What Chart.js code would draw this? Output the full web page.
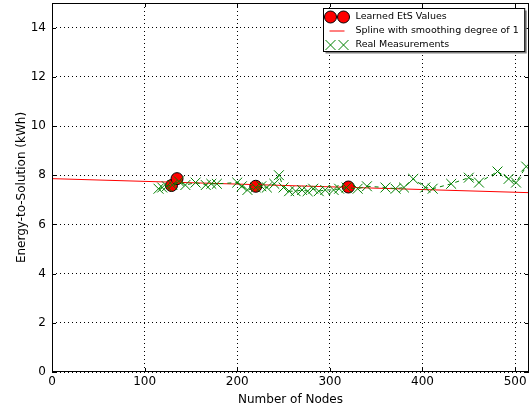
<!DOCTYPE html>
<html>
<head>
<meta charset="utf-8">
<script src="https://cdn.jsdelivr.net/npm/chart.js@4"></script>
<style>
  html, body { margin: 0; padding: 0; background: #fff; }
  canvas { display: block; }
</style>
</head>
<body>
<canvas id="chart" width="530" height="407"></canvas>
<script>
// values
const learnedNodes = [129, 135, 220, 320];
const learnedEts   = [7.58, 7.86, 7.55, 7.52];

const splineNodes = [0, 515];
const splineEts   = [7.86, 7.29];

const measuredNodes = [115, 119, 124, 130, 137, 144, 155, 166, 172, 178, 200, 205, 211, 220, 226, 232,
                       240, 245, 250, 256, 263, 270, 276, 282, 288, 295, 304, 310, 318, 330, 340, 360,
                       371, 380, 390, 403, 411, 431, 450, 461, 481, 493, 501, 512];
const measuredEts   = [7.45, 7.50, 7.55, 7.60, 7.75, 7.60, 7.70, 7.60, 7.65, 7.65, 7.70, 7.55, 7.40, 7.50, 7.55, 7.50,
                       7.65, 8.00, 7.50, 7.35, 7.35, 7.40, 7.35, 7.45, 7.35, 7.40, 7.40, 7.45, 7.50, 7.45, 7.55, 7.50,
                       7.45, 7.50, 7.85, 7.50, 7.45, 7.65, 7.90, 7.70, 8.15, 7.85, 7.70, 8.35];

const xTicks = [0, 100, 200, 300, 400, 500];
const yTicks = [0, 2, 4, 6, 8, 10, 12, 14];

const FONT = 'DejaVu Sans';
const toXY = (xs, ys) => xs.map((x, i) => ({ x: x, y: ys[i] }));

const framePlugin = {
  id: 'frame',
  afterDraw(chart) {
    const ctx = chart.ctx;
    const a = chart.chartArea;
    ctx.save();
    ctx.strokeStyle = '#000';
    ctx.lineWidth = 1;
    ctx.strokeRect(Math.round(a.left) + 0.5, Math.round(a.top) + 0.5,
                   Math.round(a.right - a.left) - 1, Math.round(a.bottom - a.top) - 1);
    // inward tick marks on all sides
    ctx.beginPath();
    chart.scales.x.ticks.forEach(t => {
      const px = Math.round(chart.scales.x.getPixelForValue(t.value)) + 0.5;
      ctx.moveTo(px, a.bottom); ctx.lineTo(px, a.bottom - 4);
      ctx.moveTo(px, a.top); ctx.lineTo(px, a.top + 4);
    });
    chart.scales.y.ticks.forEach(t => {
      const py = Math.round(chart.scales.y.getPixelForValue(t.value)) + 0.5;
      ctx.moveTo(a.left, py); ctx.lineTo(a.left + 4, py);
      ctx.moveTo(a.right, py); ctx.lineTo(a.right - 4, py);
    });
    ctx.stroke();
    ctx.restore();
  }
};

const legendPlugin = {
  id: 'mplLegend',
  afterDraw(chart) {
    const ctx = chart.ctx;
    const a = chart.chartArea;
    const sets = chart.data.datasets;
    ctx.save();
    ctx.font = '9.5px "' + FONT + '"';
    const textW = Math.max(...sets.map(d => ctx.measureText(d.label).width));
    const w = textW + 38, h = 43;
    const left = Math.round(a.right - w - 5) + 0.5;
    const top = Math.round(a.top + 5) + 0.5;
    // shadow
    ctx.fillStyle = '#808080';
    ctx.fillRect(left + 2, top + 2, w, h);
    ctx.fillStyle = '#fff';
    ctx.fillRect(left, top, w, h);
    ctx.strokeStyle = '#000';
    ctx.lineWidth = 1;
    ctx.strokeRect(left, top, w, h);

    sets.forEach((d, i) => {
      const cy = Math.round(top + 8 + i * 14);
      const m1 = left + 7, m2 = left + 20;
      if (d.showLine && d.pointRadius === 0) {
        ctx.strokeStyle = '#ff0000';
        ctx.lineWidth = 1;
        ctx.beginPath(); ctx.moveTo(m1 - 1, cy); ctx.lineTo(m2 + 1, cy); ctx.stroke();
      } else if (d.pointStyle === 'circle') {
        [m1, m2].forEach(mx => {
          ctx.beginPath(); ctx.arc(mx, cy, 6, 0, Math.PI * 2);
          ctx.fillStyle = d.pointBackgroundColor; ctx.fill();
          ctx.strokeStyle = d.pointBorderColor; ctx.lineWidth = 1; ctx.stroke();
        });
      } else {
        ctx.strokeStyle = d.borderColor;
        ctx.lineWidth = 1;
        ctx.beginPath();
        [m1, m2].forEach(mx => {
          ctx.moveTo(mx - 5, cy - 5); ctx.lineTo(mx + 5, cy + 5);
          ctx.moveTo(mx - 5, cy + 5); ctx.lineTo(mx + 5, cy - 5);
        });
        ctx.stroke();
      }
      ctx.fillStyle = '#000';
      ctx.textBaseline = 'middle';
      ctx.textAlign = 'left';
      ctx.fillText(d.label, left + 32, cy);
    });
    ctx.restore();
  }
};

new Chart(document.getElementById('chart'), {
  type: 'scatter',
  data: {
    datasets: [
      {
        label: 'Learned EtS Values',
        data: toXY(learnedNodes, learnedEts),
        pointStyle: 'circle',
        pointRadius: 6,
        pointBackgroundColor: '#ff0000',
        pointBorderColor: '#000000',
        pointBorderWidth: 1,
        borderColor: '#000000',
        showLine: false,
        order: 2
      },
      {
        label: 'Spline with smoothing degree of 1',
        data: toXY(splineNodes, splineEts),
        showLine: true,
        pointRadius: 0,
        borderColor: '#ff0000',
        borderWidth: 1,
        order: 1
      },
      {
        label: 'Real Measurements',
        data: toXY(measuredNodes, measuredEts),
        showLine: true,
        pointStyle: 'crossRot',
        pointRadius: 7,
        pointBorderColor: '#008000',
        pointBorderWidth: 1,
        borderColor: '#008000',
        borderWidth: 1,
        borderDash: [4, 4],
        order: 0
      }
    ]
  },
  options: {
    responsive: false,
    animation: false,
    devicePixelRatio: 1,
    layout: { autoPadding: false, padding: { top: 3, right: 1, left: 0, bottom: 0 } },
    plugins: {
      legend: { display: false },
      tooltip: { enabled: false }
    },
    scales: {
      x: {
        type: 'linear',
        min: 0,
        max: 515,
        afterBuildTicks: s => { s.ticks = xTicks.map(v => ({ value: v })); },
        afterFit: s => { s.height = 35; s.paddingLeft = 0; s.paddingRight = 0; },
        grid: { color: '#000', lineWidth: 1, drawTicks: false },
        border: { display: false, dash: [1, 3] },
        ticks: { color: '#000', font: { family: FONT, size: 12 }, padding: 3, maxRotation: 0 },
        title: { display: true, text: 'Number of Nodes', color: '#000',
                 font: { family: FONT, size: 12 }, padding: { top: 0, bottom: 0 } }
      },
      y: {
        type: 'linear',
        min: 0,
        max: 15,
        afterBuildTicks: s => { s.ticks = yTicks.map(v => ({ value: v })); },
        afterFit: s => { s.width = 52; s.paddingTop = 0; s.paddingBottom = 0; },
        grid: { color: '#000', lineWidth: 1, drawTicks: false },
        border: { display: false, dash: [1, 3] },
        ticks: { color: '#000', font: { family: FONT, size: 12 }, padding: 6 },
        title: { display: true, text: 'Energy-to-Solution (kWh)', color: '#000',
                 font: { family: FONT, size: 12 }, padding: { top: 15, bottom: 0 } }
      }
    }
  },
  plugins: [framePlugin, legendPlugin]
});
</script>
</body>
</html>
